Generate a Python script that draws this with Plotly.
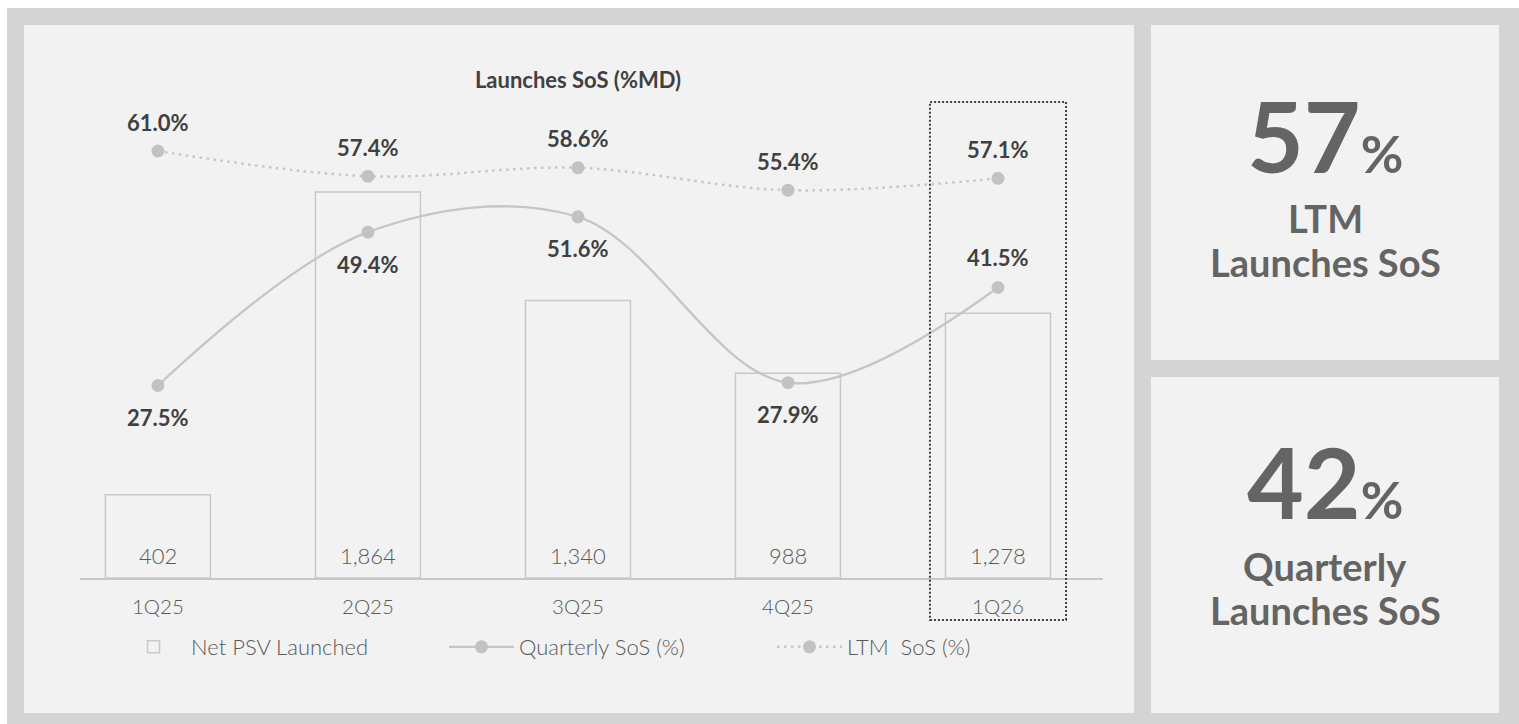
import plotly.graph_objects as go

# ---------------- data ----------------
categories = ["1Q25", "2Q25", "3Q25", "4Q25", "1Q26"]
net_psv = [402, 1864, 1340, 988, 1278]
quarterly_sos = [27.5, 49.4, 51.6, 27.9, 41.5]
ltm_sos = [61.0, 57.4, 58.6, 55.4, 57.1]
quarterly_label_pos = ["below", "below", "below", "below", "above"]
kpi_ltm = "57"
kpi_quarterly = "42"

# ---------------- layout geometry (pixels) ----------------
W, H = 1519, 724
PL, PR, PT, PB = 80, 1103, 25, 578  # plot area
def px(x):
    return (x - PL) / (PR - PL)
def py(y):
    return (PB - y) / (PB - PT)

FONT = "Lato"
DARK = "#404040"
MID = "#595959"
KPI = "#646464"
LINE = "#c6c6c6"
MARK = "#c2c2c2"

x = list(range(len(categories)))

fig = go.Figure()

fig.add_trace(go.Bar(
    x=x, y=net_psv, name="Net PSV Launched", width=0.5,
    marker=dict(color="rgba(0,0,0,0)", line=dict(color="#c8c8c8", width=1.5)),
    yaxis="y", hoverinfo="skip",
))
fig.add_trace(go.Scatter(
    x=x, y=quarterly_sos, name="Quarterly SoS (%)", mode="lines+markers",
    line=dict(color=LINE, width=2.3, shape="spline", smoothing=1.0),
    marker=dict(color=MARK, size=13), yaxis="y2", hoverinfo="skip",
))
fig.add_trace(go.Scatter(
    x=x, y=ltm_sos, name="LTM  SoS (%)", mode="lines+markers",
    line=dict(color=LINE, width=2.5, shape="spline", smoothing=1.0, dash="2.5px,4.5px"),
    marker=dict(color=MARK, size=13), yaxis="y2", hoverinfo="skip",
))

annotations = []
# bar value labels
for xi, v in zip(x, net_psv):
    annotations.append(dict(x=xi, y=0, xref="x", yref="y", text=f"{v:,}", showarrow=False,
                            yanchor="middle", yshift=23,
                            font=dict(family=FONT, size=22, color=MID, weight=300)))
# LTM labels (above)
for xi, v in zip(x, ltm_sos):
    annotations.append(dict(x=xi, y=v, xref="x", yref="y2", text=f"{v:.1f}%", showarrow=False,
                            yanchor="middle", yshift=29,
                            font=dict(family=FONT, size=22, color=DARK, weight=700)))
# Quarterly labels
for xi, v, pos in zip(x, quarterly_sos, quarterly_label_pos):
    annotations.append(dict(x=xi, y=v, xref="x", yref="y2", text=f"{v:.1f}%", showarrow=False,
                            yanchor="middle", yshift=(30 if pos == "above" else -32),
                            font=dict(family=FONT, size=22, color=DARK, weight=700)))

# KPI panels
cx = px(1325)
def kpi(text, ycap, size):
    return dict(x=cx, y=py(ycap), xref="paper", yref="paper", showarrow=False,
                xanchor="center", yanchor="middle", align="center", text=text,
                font=dict(family=FONT, size=size, color=KPI, weight=700))

annotations += [
    kpi(kpi_ltm + "<span style='font-size:52px'>%</span>", 135, 98),
    kpi("LTM", 218, 38),
    kpi("Launches SoS", 262, 38),
    kpi(kpi_quarterly + "<span style='font-size:52px'>%</span>", 481, 98),
    kpi("Quarterly", 566, 38),
    kpi("Launches SoS", 610, 38),
]

shapes = [
    dict(type="rect", xref="paper", yref="paper", x0=px(7), x1=px(1519), y0=py(8), y1=py(724),
         fillcolor="#d4d4d4", line=dict(width=0), layer="below"),
    dict(type="rect", xref="paper", yref="paper", x0=px(24), x1=px(1134), y0=py(25), y1=py(713),
         fillcolor="#f2f2f2", line=dict(width=0), layer="below"),
    dict(type="rect", xref="paper", yref="paper", x0=px(1151), x1=px(1499), y0=py(25), y1=py(360),
         fillcolor="#f2f2f2", line=dict(width=0), layer="below"),
    dict(type="rect", xref="paper", yref="paper", x0=px(1151), x1=px(1499), y0=py(377), y1=py(713),
         fillcolor="#f2f2f2", line=dict(width=0), layer="below"),
    # highlight on latest quarter
    dict(type="rect", xref="x", yref="paper", x0=x[-1] - 0.324, x1=x[-1] + 0.324,
         y0=py(620), y1=py(102), fillcolor="rgba(0,0,0,0)",
         line=dict(color="#404040", width=2, dash="2px,2px"), layer="above"),
]

fig.update_layout(
    width=W, height=H,
    margin=dict(l=PL, r=W - PR, t=PT, b=H - PB, pad=0),
    paper_bgcolor="white", plot_bgcolor="rgba(0,0,0,0)",
    showlegend=True,
    title=dict(text="<b>Launches SoS (%MD)</b>", x=578 / W, xref="container", xanchor="center",
               y=1 - 80 / H, yref="container", yanchor="middle",
               font=dict(family=FONT, size=22, color=DARK)),
    xaxis=dict(range=[-0.371, 4.5], tickvals=x, ticktext=categories, showgrid=False,
               zeroline=False, showline=True, linecolor="#c8c8c8", linewidth=1.5,
               ticks="outside", ticklen=10, tickcolor="rgba(0,0,0,0)",
               tickfont=dict(family=FONT, size=20.5, color=MID, weight=300), fixedrange=True),
    yaxis=dict(range=[0, 2670], visible=False, showgrid=False, zeroline=False, fixedrange=True),
    yaxis2=dict(range=[0, 79], overlaying="y", visible=False, showgrid=False, zeroline=False,
                fixedrange=True),
    legend=dict(orientation="h", x=px(116), y=py(647), xanchor="left", yanchor="middle",
                bgcolor="rgba(0,0,0,0)", entrywidth=248, entrywidthmode="pixels",
                itemwidth=65,
                font=dict(family=FONT, size=22, color=MID, weight=300)),
    annotations=annotations, shapes=shapes,
    bargap=0.5,
)

fig.write_html("out.html")
